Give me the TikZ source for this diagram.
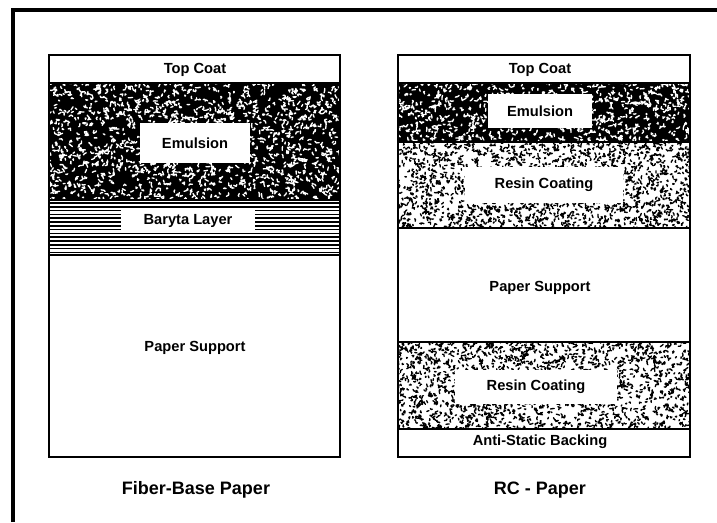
\documentclass[tikz,border=0pt]{standalone}
\usepackage{fontspec}
\setmainfont{Liberation Sans}
\usetikzlibrary{positioning}
\tikzset{layer/.style={line width=1.6pt},
  lab/.style={font=\bfseries\fontsize{11}{13}\selectfont,inner sep=0pt},
  lbox/.style={lab,fill=white},
  caption/.style={font=\bfseries\fontsize{13.5}{15}\selectfont}}
% random short squiggles inside a clipped band: x, y, width, height, count, colour, stroke length
\newcommand\grain[7]{\begin{scope}\clip (#1,#2) rectangle ++(#3,#4);
  \draw[#6,line width=1pt,line cap=round,line join=round] \foreach \i in {1,...,#5}{(#1+rnd*#3,#2+rnd*#4) -- ++(rnd*360:0.6+rnd*#7) -- ++(rnd*360:0.6+rnd*#7)};
  \end{scope}}

\begin{document}
\begin{tikzpicture}[x=0.75pt,y=-0.75pt]
\pgfmathsetseed{11}
\useasboundingbox (0,0) rectangle (717,522);
\draw[line width=2.6pt] (13,522) |- (717,10);

% fiber-base paper
\fill (49,83) rectangle (340,200);
\grain{49}{83}{291}{117}{1500}{white}{2.2}
\foreach \y in {203,206.8,...,253.5} \draw[line width=1.1pt] (49,\y) -- (340,\y);
\node[lab] (fbTop) at (195,70) {Top Coat};
\node[lbox,minimum width=82pt,minimum height=30pt] (fbEmul) at (195,143) {Emulsion};
\node[lbox,minimum width=100pt,minimum height=17pt] (fbBaryta) at (188,221) {Baryta Layer};
\node[lab] (fbPaper) at (195,348) {Paper Support};
\draw[layer] (49,83) -- (340,83) (49,200) -- (340,200) (49,255) -- (340,255);
\draw[layer,line width=1.9pt] (49,55) rectangle (340,457);
\node[caption] (fbCap) at (196,490) {Fiber-Base Paper};

% resin-coated paper
\fill (398,83) rectangle (690,142);
\grain{398}{83}{292}{59}{750}{white}{2.2}
\grain{398}{142}{292}{86}{1800}{black}{1.6}
\grain{398}{342}{292}{87}{1800}{black}{1.6}
\node[lab] (rcTop) at (540,70) {Top Coat};
\node[lbox,minimum width=78pt,minimum height=26pt] (rcEmul) at (540,111) {Emulsion};
\node[lbox,minimum width=118pt,minimum height=27pt] (rcResinA) at (544,185) {Resin Coating};
\node[lab] (rcPaper) at (540,288) {Paper Support};
\node[lbox,minimum width=121pt,minimum height=25pt] (rcResinB) at (536,387) {Resin Coating};
\node[lab] (rcBack) at (540,442) {Anti-Static Backing};
\draw[layer] (398,83) -- (690,83) (398,142) -- (690,142) (398,228) -- (690,228) (398,342) -- (690,342) (398,429) -- (690,429);
\draw[layer,line width=1.9pt] (398,55) rectangle (690,457);
\node[caption] (rcCap) at (540,490) {RC - Paper};
\end{tikzpicture}
\end{document}
